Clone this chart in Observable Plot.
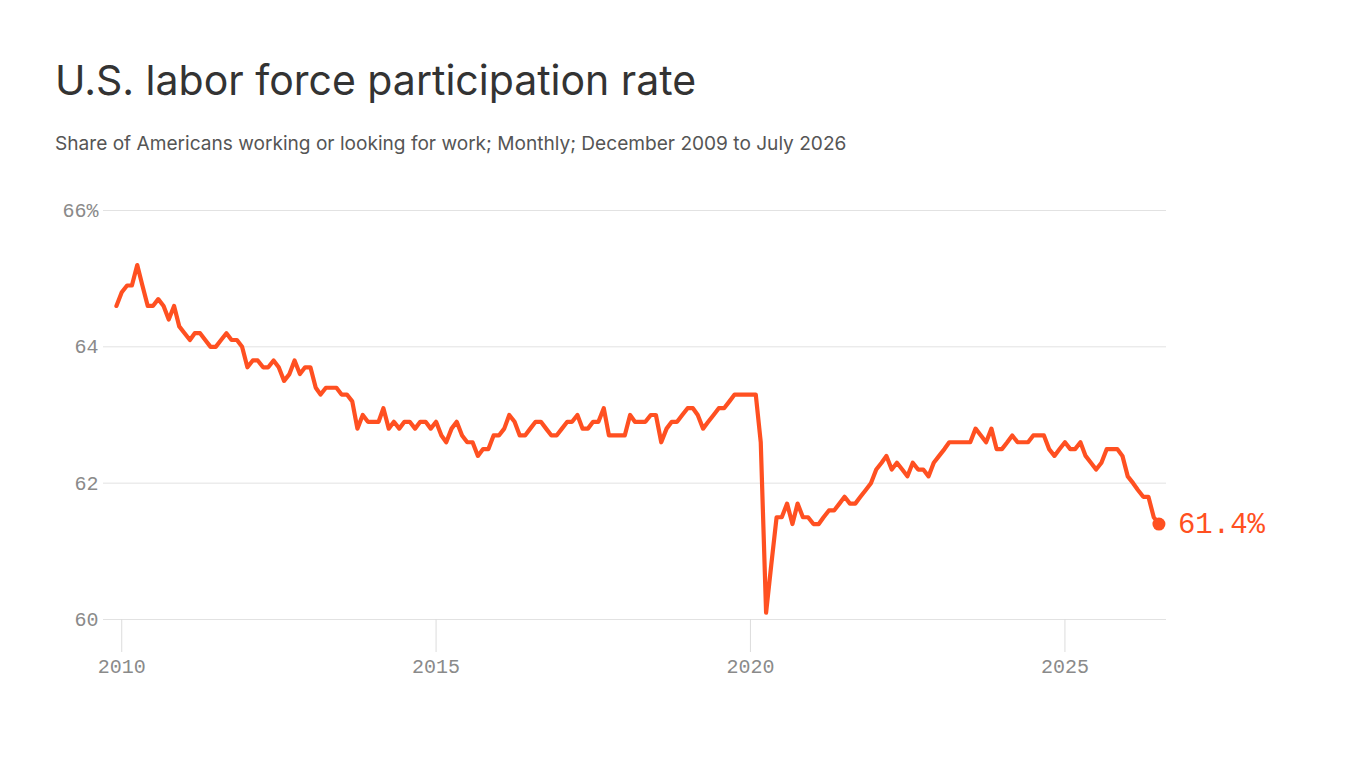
<!DOCTYPE html>
<html>
<head>
<meta charset="utf-8">
<script src="https://cdn.jsdelivr.net/npm/d3@7"></script>
<script src="https://cdn.jsdelivr.net/npm/@observablehq/plot@0.6"></script>
<style>
  html, body { margin: 0; padding: 0; background: #fff; }
  body { width: 1366px; height: 768px; position: relative; overflow: hidden; }
  #title { position: absolute; left: 55px; top: 60px; font-family: Inter, "Noto Sans", sans-serif; font-size: 41px; line-height: 1; color: #333; font-weight: 400; letter-spacing: 0; white-space: nowrap; }
  #subtitle { position: absolute; left: 55px; top: 134px; font-family: Inter, "Noto Sans", sans-serif; font-size: 19.1px; line-height: 1; color: #555; white-space: nowrap; }
  #chart { position: absolute; left: 0; top: 180px; }
</style>
</head>
<body>
<div id="title">U.S. labor force participation rate</div>
<div id="subtitle">Share of Americans working or looking for work; Monthly; December 2009 to July 2026</div>
<div id="chart"></div>
<script>
// Monthly labor force participation rate (%)
const rate2009 = [64.6]; // December only
const rate2010 = [64.8, 64.9, 64.9, 65.2, 64.9, 64.6, 64.6, 64.7, 64.6, 64.4, 64.6, 64.3];
const rate2011 = [64.2, 64.1, 64.2, 64.2, 64.1, 64.0, 64.0, 64.1, 64.2, 64.1, 64.1, 64.0];
const rate2012 = [63.7, 63.8, 63.8, 63.7, 63.7, 63.8, 63.7, 63.5, 63.6, 63.8, 63.6, 63.7];
const rate2013 = [63.7, 63.4, 63.3, 63.4, 63.4, 63.4, 63.3, 63.3, 63.2, 62.8, 63.0, 62.9];
const rate2014 = [62.9, 62.9, 63.1, 62.8, 62.9, 62.8, 62.9, 62.9, 62.8, 62.9, 62.9, 62.8];
const rate2015 = [62.9, 62.7, 62.6, 62.8, 62.9, 62.7, 62.6, 62.6, 62.4, 62.5, 62.5, 62.7];
const rate2016 = [62.7, 62.8, 63.0, 62.9, 62.7, 62.7, 62.8, 62.9, 62.9, 62.8, 62.7, 62.7];
const rate2017 = [62.8, 62.9, 62.9, 63.0, 62.8, 62.8, 62.9, 62.9, 63.1, 62.7, 62.7, 62.7];
const rate2018 = [62.7, 63.0, 62.9, 62.9, 62.9, 63.0, 63.0, 62.6, 62.8, 62.9, 62.9, 63.0];
const rate2019 = [63.1, 63.1, 63.0, 62.8, 62.9, 63.0, 63.1, 63.1, 63.2, 63.3, 63.3, 63.3];
const rate2020 = [63.3, 63.3, 62.6, 60.1, 60.8, 61.5, 61.5, 61.7, 61.4, 61.7, 61.5, 61.5];
const rate2021 = [61.4, 61.4, 61.5, 61.6, 61.6, 61.7, 61.8, 61.7, 61.7, 61.8, 61.9, 62.0];
const rate2022 = [62.2, 62.3, 62.4, 62.2, 62.3, 62.2, 62.1, 62.3, 62.2, 62.2, 62.1, 62.3];
const rate2023 = [62.4, 62.5, 62.6, 62.6, 62.6, 62.6, 62.6, 62.8, 62.7, 62.6, 62.8, 62.5];
const rate2024 = [62.5, 62.6, 62.7, 62.6, 62.6, 62.6, 62.7, 62.7, 62.7, 62.5, 62.4, 62.5];
const rate2025 = [62.6, 62.5, 62.5, 62.6, 62.4, 62.3, 62.2, 62.3, 62.5, 62.5, 62.5, 62.4];
const rate2026 = [62.1, 62.0, 61.9, 61.8, 61.8, 61.5, 61.4]; // January–July

const yearTicks = [2010, 2015, 2020, 2025];
const yTicks = [60, 62, 64, 66];

const orange = "#ff5021";
const mono = "'Liberation Mono', 'DejaVu Sans Mono', monospace";

// Build the monthly table
const byYear = [
  [2009, rate2009, 11], [2010, rate2010, 0], [2011, rate2011, 0], [2012, rate2012, 0],
  [2013, rate2013, 0], [2014, rate2014, 0], [2015, rate2015, 0], [2016, rate2016, 0],
  [2017, rate2017, 0], [2018, rate2018, 0], [2019, rate2019, 0], [2020, rate2020, 0],
  [2021, rate2021, 0], [2022, rate2022, 0], [2023, rate2023, 0], [2024, rate2024, 0],
  [2025, rate2025, 0], [2026, rate2026, 0]
];
const data = [];
for (const [yr, vals, startMonth] of byYear) {
  vals.forEach((v, i) => data.push({date: new Date(Date.UTC(yr, startMonth + i, 1)), value: v}));
}
const last = data[data.length - 1];

const chart = Plot.plot({
  width: 1366,
  height: 520,
  marginTop: 30,
  marginBottom: 81,
  marginLeft: 103,
  marginRight: 200,
  style: {fontFamily: mono, background: "transparent", overflow: "visible"},
  x: {type: "utc", domain: [new Date(Date.UTC(2009, 8, 17)), new Date(Date.UTC(2026, 7, 14))]},
  y: {domain: [60, 66]},
  marks: [
    Plot.ruleY(yTicks, {stroke: "#e2e2e2", strokeWidth: 1}),
    Plot.axisX(yearTicks.map(y => new Date(Date.UTC(y, 0, 1))), {
      tickSize: 33, tickPadding: 6, stroke: "#dcdcdc", fill: "#8a8a8a",
      fontSize: 20, tickFormat: d => String(d.getUTCFullYear()), label: null
    }),
    Plot.axisY(yTicks, {
      tickSize: 0, tickPadding: 5, fill: "#8a8a8a", fontSize: 20,
      tickFormat: d => d === 66 ? "66%" : String(d), label: null
    }),
    Plot.lineY(data, {x: "date", y: "value", stroke: orange, strokeWidth: 4.2, strokeLinejoin: "round", strokeLinecap: "round"}),
    Plot.dot([last], {x: "date", y: "value", r: 6.5, fill: orange, stroke: "none"}),
    Plot.text([last], {x: "date", y: "value", text: d => d.value.toFixed(1) + "%", dx: 19, textAnchor: "start", fill: orange, fontSize: 29, fontFamily: mono})
  ]
});
document.getElementById("chart").appendChild(chart);
</script>
</body>
</html>
